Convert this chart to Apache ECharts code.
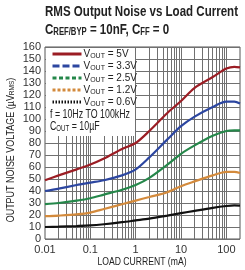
<!DOCTYPE html>
<html><head><meta charset="utf-8">
<script src="https://cdn.jsdelivr.net/npm/echarts@6/dist/echarts.min.js"></script>
<style>html,body{margin:0;padding:0;background:#fff}#c{width:245px;height:270px}</style>
</head><body><div id="c"></div>
<script>
const current = [0.01,0.02,0.05,0.1,0.2,0.5,1,2,5,10,20,50,100,150,200];
const v5   = [49,53,58,62,67,75,80,90,105,115,126,135,142,143.5,143];
const v33  = [40,42,45,47,49,53,58,68,83,94,102,110,114.5,114.5,113];
const v25  = [29,30,32,34,37,41,45,51,62,71,78,86,90,90.5,90.5];
const v12  = [19,19.5,20.5,22,25,29,32,35,39,44,48,53,56,56,55];
const v06  = [10,10.3,10.8,11.3,12.3,14,15.5,17,19.5,21.5,23.5,26,27.5,28,27.8];
const names = ['5V','3.3V','2.5V','1.2V','0.6V'];
const xTicks = [0.01,0.1,1,10,100];
const yTicks = [0,10,20,30,40,50,60,70,80,90,100,110,120,130,140,150,160];

const colors = ['#9b1d24','#2c46a0','#25874a','#d38a3c','#111111'];
const legendDash = ['solid',[7,3],[4,2.5],[3,2],[1.5,1.5]];
const gridX = [];
[0.01,0.1,1,10,100].forEach(d=>{for(let k=1;k<=9;k++){const v=d*k; if(v<200 && v>0.01) gridX.push(+v.toPrecision(3));}});

const FF = 'Arial, Liberation Sans, sans-serif';
const mc = document.createElement('canvas').getContext('2d');
function fit(text, font, target){ mc.font = font; return target / mc.measureText(text).width; }
const sT = fit('RMS Output Noise vs Load Current', 'bold 15px '+FF, 193);
const sX = fit('LOAD CURRENT (mA)', '11px '+FF, 89);
const sY = fit('OUTPUT NOISE VOLTAGE (µVRMS)', '11px '+FF, 150);
const sF = fit('f = 10Hz TO 100kHz', '13px '+FF, 80);

const chart = echarts.init(document.getElementById('c'), null, {renderer:'canvas'});
const sets = [v5,v33,v25,v12,v06];
const series = sets.map((vals,i)=>({
  name: names[i], type:'line', smooth:0.3, symbol:'none',
  data: current.map((c,j)=>[c,vals[j]]),
  lineStyle:{color:colors[i], width:2.2}, itemStyle:{color:colors[i]}, z:5,
  markLine: i===0 ? {silent:true, symbol:'none', animation:false, label:{show:false},
    lineStyle:{color:'#707070', width:1, type:'solid'}, z:1,
    data: gridX.map(v=>({xAxis:v}))} : undefined
}));
const sub = {fontSize:7, verticalAlign:'bottom', fontFamily:FF, color:'#222', lineHeight:12};
const subG = {fontSize:9, verticalAlign:'bottom', fontFamily:FF, fill:'#222'};
const subY = {fontSize:8, verticalAlign:'bottom', fontFamily:FF, fill:'#222'};
chart.setOption({
  animation:false,
  grid:{left:45,right:5,top:47,bottom:31,show:true,borderColor:'#555',borderWidth:1},
  xAxis:{type:'log', logBase:10, min:0.01, max:200,
    axisLine:{show:false}, axisTick:{show:false}, splitLine:{show:false},
    axisLabel:{showMaxLabel:false, color:'#333', fontSize:11, fontFamily:FF, margin:5,
      formatter:v=>{const t=xTicks.find(x=>Math.abs(x-v)/x<1e-6); return t===undefined?'':String(t);}}},
  yAxis:{type:'value', min:0, max:160, interval:10,
    axisLine:{show:false}, axisTick:{show:false},
    splitLine:{lineStyle:{color:'#707070',width:1}},
    axisLabel:{color:'#333', fontSize:11, fontFamily:FF, margin:4,
      formatter:v=>yTicks.includes(v)?String(v):''}},
  legend:{orient:'vertical', left:49, top:47, itemWidth:29, itemHeight:12, itemGap:0, z:100, padding:[1,2,1,2],
    selectedMode:false, itemStyle:{opacity:0},
    data: names.map((n,i)=>({name:n, itemStyle:{opacity:0}, lineStyle:{type:legendDash[i], width:3, color:colors[i]}})),
    formatter: n=>'V{s|OUT} = '+n,
    textStyle:{fontSize:10, lineHeight:12, color:'#222', fontFamily:FF, padding:[0,0,0,-3], rich:{s:sub}}},
  graphic:{elements:[
    {type:'rect', z:50, shape:{x:46, y:48, width:89, height:88}, style:{fill:'#fff'}},
    {type:'text', z:101, x:50, y:108, scaleX:sF, style:{text:'f = 10Hz TO 100kHz', fontSize:13, fill:'#222', fontFamily:FF}},
    {type:'text', z:101, x:50, y:120, scaleX:sF, style:{text:'C{s|OUT} = 10µF', fontSize:13, fill:'#222', fontFamily:FF, rich:{s:subG}}},
    {type:'text', z:101, x:45, y:4, scaleX:sT, style:{text:'RMS Output Noise vs Load Current', fontSize:15, fontWeight:'bold', fill:'#222', fontFamily:FF}},
    {type:'text', z:101, x:45, y:22, scaleX:sT, style:{text:'C{b|REF/BYP} = 10nF, C{b|FF} = 0', fontSize:15, fontWeight:'bold', fill:'#222', fontFamily:FF,
      rich:{b:{fontSize:10, fontWeight:'bold', verticalAlign:'bottom', fontFamily:FF, fill:'#222'}}}},
    {type:'text', z:101, x:142, y:256, scaleX:sX, style:{text:'LOAD CURRENT (mA)', fontSize:11, fill:'#222', align:'center', fontFamily:FF}},
    {type:'text', z:101, x:5, y:150, rotation:Math.PI/2, scaleX:sY, style:{text:'OUTPUT NOISE VOLTAGE (µV{s|RMS})', fontSize:11, fill:'#222', align:'center', fontFamily:FF, rich:{s:subY}}}
  ]},
  series
});
</script></body></html>
